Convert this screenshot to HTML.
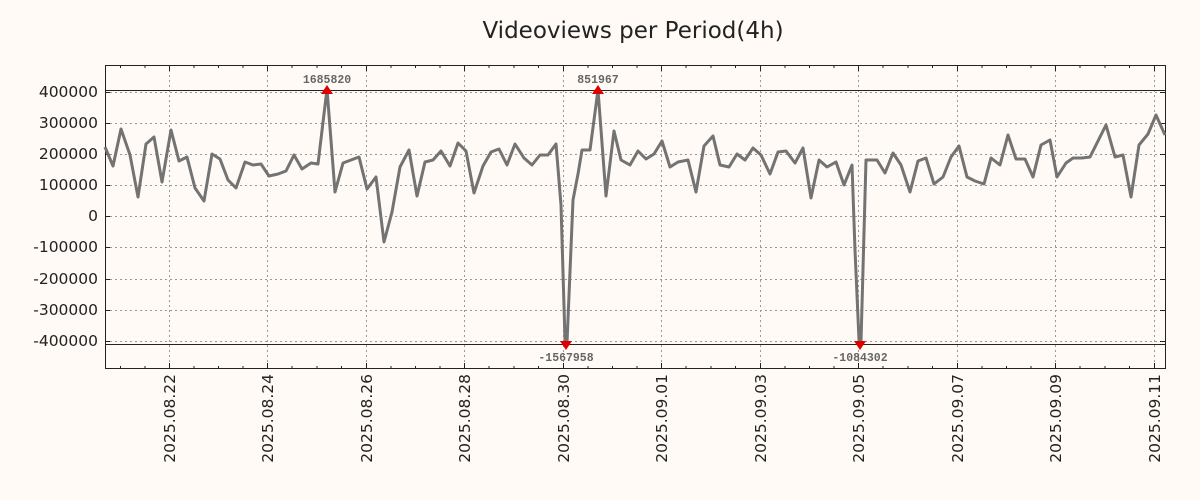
<!DOCTYPE html>
<html><head><style>body{margin:0;background:#fffaf5;}svg{display:block}</style></head><body>
<svg width="1200" height="500" xmlns="http://www.w3.org/2000/svg" font-family="DejaVu Sans, Liberation Sans, sans-serif">
<rect width="1200" height="500" fill="#fffaf5"/>
<text x="633" y="38" font-size="23" text-anchor="middle" fill="#222">Videoviews per Period(4h)</text>
<g stroke="#999" stroke-dasharray="2,3" stroke-width="1">
<line x1="105" x2="1165" y1="92.5" y2="92.5"/><line x1="105" x2="1165" y1="123.5" y2="123.5"/><line x1="105" x2="1165" y1="154.5" y2="154.5"/><line x1="105" x2="1165" y1="185.5" y2="185.5"/><line x1="105" x2="1165" y1="216.5" y2="216.5"/><line x1="105" x2="1165" y1="247.5" y2="247.5"/><line x1="105" x2="1165" y1="279.5" y2="279.5"/><line x1="105" x2="1165" y1="310.5" y2="310.5"/><line x1="105" x2="1165" y1="341.5" y2="341.5"/>
<line y1="65" y2="369" x1="169.5" x2="169.5"/><line y1="65" y2="369" x1="267.5" x2="267.5"/><line y1="65" y2="369" x1="366.5" x2="366.5"/><line y1="65" y2="369" x1="464.5" x2="464.5"/><line y1="65" y2="369" x1="563.5" x2="563.5"/><line y1="65" y2="369" x1="661.5" x2="661.5"/><line y1="65" y2="369" x1="760.5" x2="760.5"/><line y1="65" y2="369" x1="858.5" x2="858.5"/><line y1="65" y2="369" x1="957.5" x2="957.5"/><line y1="65" y2="369" x1="1055.5" x2="1055.5"/><line y1="65" y2="369" x1="1154.5" x2="1154.5"/>
</g>
<line x1="105" x2="1165" y1="90.5" y2="90.5" stroke="#222"/>
<line x1="105" x2="1165" y1="344.5" y2="344.5" stroke="#222"/>
<rect x="105.5" y="65.5" width="1060" height="303" fill="none" stroke="#222"/>
<g stroke="#222">
<path d="M105 92.5h5M105 123.5h5M105 154.5h5M105 185.5h5M105 216.5h5M105 247.5h5M105 279.5h5M105 310.5h5M105 341.5h5M1165 92.5h-5M1165 123.5h-5M1165 154.5h-5M1165 185.5h-5M1165 216.5h-5M1165 247.5h-5M1165 279.5h-5M1165 310.5h-5M1165 341.5h-5"/>
<path d="M169.5 369v-6M267.5 369v-6M366.5 369v-6M464.5 369v-6M563.5 369v-6M661.5 369v-6M760.5 369v-6M858.5 369v-6M957.5 369v-6M1055.5 369v-6M1154.5 369v-6M169.5 65v6M267.5 65v6M366.5 65v6M464.5 65v6M563.5 65v6M661.5 65v6M760.5 65v6M858.5 65v6M957.5 65v6M1055.5 65v6M1154.5 65v6"/>
<path d="M120.5 369v-3M145 369v-3M194 369v-3M218.5 369v-3M243 369v-3M292 369v-3M317 369v-3M341.5 369v-3M391 369v-3M415.5 369v-3M440 369v-3M489 369v-3M514 369v-3M538.5 369v-3M588 369v-3M612.5 369v-3M637 369v-3M686 369v-3M711 369v-3M735.5 369v-3M785 369v-3M809.5 369v-3M834 369v-3M883 369v-3M908 369v-3M932.5 369v-3M982 369v-3M1006.5 369v-3M1031 369v-3M1080 369v-3M1105 369v-3M1129.5 369v-3M120.5 65v3M145 65v3M194 65v3M218.5 65v3M243 65v3M292 65v3M317 65v3M341.5 65v3M391 65v3M415.5 65v3M440 65v3M489 65v3M514 65v3M538.5 65v3M588 65v3M612.5 65v3M637 65v3M686 65v3M711 65v3M735.5 65v3M785 65v3M809.5 65v3M834 65v3M883 65v3M908 65v3M932.5 65v3M982 65v3M1006.5 65v3M1031 65v3M1080 65v3M1105 65v3M1129.5 65v3"/>
</g>
<g font-size="15.5" fill="#222" text-anchor="end">
<text x="98" y="97">400000</text><text x="98" y="128">300000</text><text x="98" y="159">200000</text><text x="98" y="190">100000</text><text x="98" y="221">0</text><text x="98" y="252">-100000</text><text x="98" y="284">-200000</text><text x="98" y="315">-300000</text><text x="98" y="346">-400000</text>
</g>
<g font-size="15.5" fill="#222" text-anchor="end">
<text transform="translate(175,374) rotate(-90)">2025.08.22</text>
<text transform="translate(273,374) rotate(-90)">2025.08.24</text>
<text transform="translate(372,374) rotate(-90)">2025.08.26</text>
<text transform="translate(470,374) rotate(-90)">2025.08.28</text>
<text transform="translate(569,374) rotate(-90)">2025.08.30</text>
<text transform="translate(667,374) rotate(-90)">2025.09.01</text>
<text transform="translate(766,374) rotate(-90)">2025.09.03</text>
<text transform="translate(864,374) rotate(-90)">2025.09.05</text>
<text transform="translate(963,374) rotate(-90)">2025.09.07</text>
<text transform="translate(1061,374) rotate(-90)">2025.09.09</text>
<text transform="translate(1160,374) rotate(-90)">2025.09.11</text>
</g>
<polyline fill="none" stroke="#737373" stroke-width="3" stroke-linejoin="round" points="105,147 113,166 121,129 130,155 138,197 146,144 154,137 162,182 171,130 179,161 187,157 195,188 204,201 212,154 220,159 228,180 236,188 245,162 253,165 261,164 269,176 278,174 286,171 294,155 302,169 311,163 318,164 327,89 335,192 343,163 351,160 359,157 367,189 376,177 384,242 392,212 400,167 409,150 417,196 425,162 433,160 441,151 450,166 458,143 466,151 474,193 483,166 491,152 499,149 507,165 515,144 524,158 532,165 540,155 548,155 556,144 561,205 565,340 567,343 573,200 578,174 582,150 590,150 598,90 606,196 614,131 621,160 630,165 638,151 646,159 654,154 662,141 670,167 678,162 688,160 696,192 704,146 713,136 720,165 729,167 737,154 745,160 753,148 761,155 770,174 778,152 786,151 795,163 803,148 811,198 819,160 827,167 836,162 844,185 852,165 855,250 859,340 861,342 866,160 877,160 885,173 893,153 901,165 910,192 918,161 926,158 934,184 943,177 951,157 959,146 967,177 975,181 984,184 991,158 1000,165 1008,135 1016,159 1025,159 1033,177 1041,145 1050,140 1057,177 1066,163 1073,158 1082,158 1090,157 1106,125 1115,157 1123,155 1131,197 1139,145 1148,134 1156,115 1165,135"/>
<g fill="#e00000">
<polygon points="321,94 333,94 327,85"/><polygon points="592,94 604,94 598,85"/>
<polygon points="560,341 572,341 566,350"/><polygon points="854,341 866,341 860,350"/>
</g>
<g font-family="Liberation Mono, DejaVu Sans Mono, monospace" font-size="11.5" font-weight="bold" fill="#666" text-anchor="middle">
<text x="327" y="83">1685820</text><text x="598" y="83">851967</text>
<text x="566" y="361">-1567958</text><text x="860" y="361">-1084302</text>
</g>
</svg>
</body></html>
